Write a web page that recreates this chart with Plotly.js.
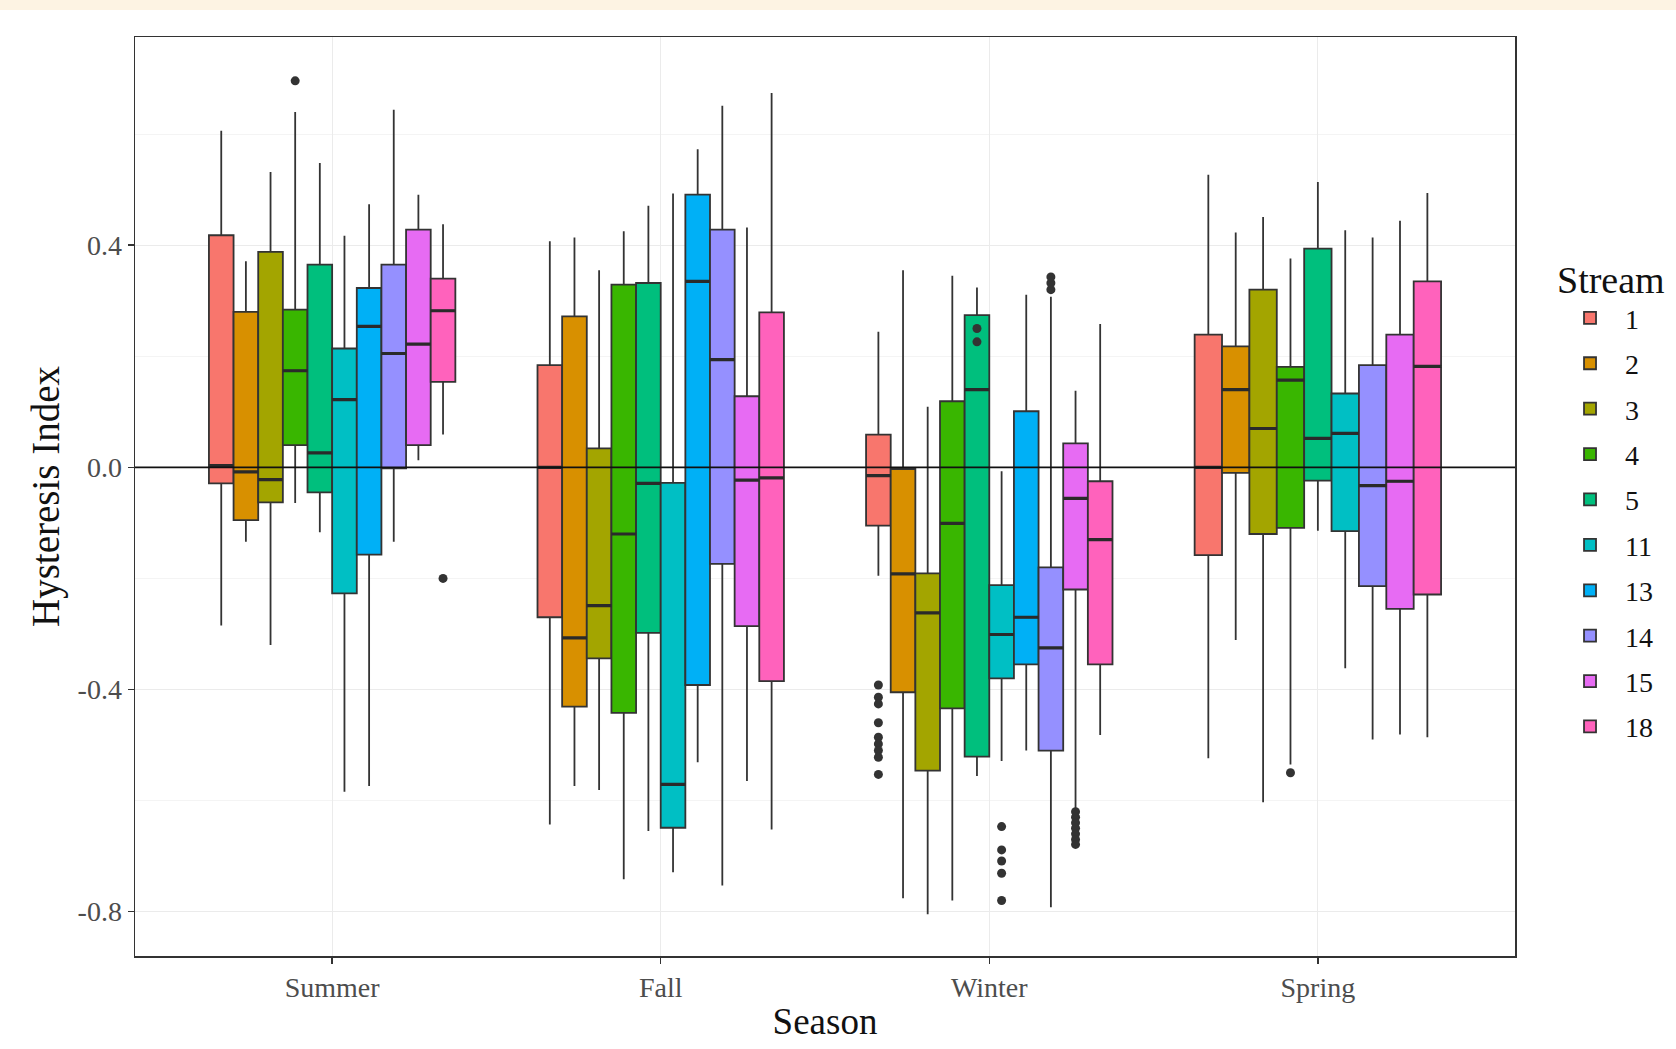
<!DOCTYPE html>
<html><head><meta charset="utf-8">
<script src="https://cdn.plot.ly/plotly-3.0.1.min.js"></script>
<style>
html,body{margin:0;padding:0;background:#fff;overflow:hidden}
#band{position:absolute;left:0;top:0;width:1676px;height:10px;background:#FDF3E3;z-index:10}
#chart{width:1676px;height:1049px}
</style></head>
<body><div id="band"></div><div id="chart"></div>
<script>
// ---- data ----
const seasons = ['Summer', 'Fall', 'Winter', 'Spring'];
const streams = ['1', '2', '3', '4', '5', '11', '13', '14', '15', '18'];
const colors = ['#F8766D', '#D89000', '#A3A500', '#39B600', '#00BF7D', '#00BFC4', '#00B0F6', '#9590FF', '#E76BF3', '#FF62BC'];

// rows = seasons, columns = streams (null = no data)
const lowerWhisker = [
  [-0.285, -0.134, -0.320, -0.064, -0.117, -0.584, -0.574, -0.134, 0.013, 0.059],
  [-0.643, -0.574, -0.581, -0.742, -0.655, -0.729, -0.531, -0.753, -0.565, -0.652],
  [-0.195, -0.776, -0.805, -0.780, -0.556, -0.529, -0.510, -0.792, -0.619, -0.482],
  [-0.524, -0.311, -0.603, -0.535, -0.114, -0.362, null, -0.490, -0.481, -0.486]
];
const quart1 = [
  [-0.029, -0.095, -0.063, 0.040, -0.045, -0.227, -0.157, -0.002, 0.040, 0.154],
  [-0.270, -0.431, -0.344, -0.442, -0.298, -0.649, -0.392, -0.174, -0.286, -0.385],
  [-0.105, -0.405, -0.546, -0.434, -0.521, -0.380, -0.355, -0.510, -0.220, -0.355],
  [-0.158, -0.010, -0.120, -0.109, -0.024, -0.115, null, -0.214, -0.255, -0.229]
];
const medians = [
  [0.003, -0.008, -0.022, 0.174, 0.026, 0.122, 0.254, 0.205, 0.222, 0.282],
  [0.000, -0.307, -0.249, -0.120, -0.029, -0.571, 0.335, 0.194, -0.023, -0.019],
  [-0.015, -0.192, -0.262, -0.101, 0.140, -0.301, -0.270, -0.325, -0.056, -0.130],
  [0.000, 0.140, 0.070, 0.157, 0.052, 0.061, null, -0.033, -0.025, 0.182]
];
const quart3 = [
  [0.418, 0.280, 0.388, 0.284, 0.365, 0.214, 0.323, 0.365, 0.428, 0.340],
  [0.184, 0.272, 0.034, 0.329, 0.332, -0.028, 0.491, 0.428, 0.128, 0.279],
  [0.059, -0.003, -0.191, 0.119, 0.274, -0.212, 0.101, -0.180, 0.043, -0.025],
  [0.239, 0.218, 0.320, 0.181, 0.394, 0.133, null, 0.184, 0.239, 0.335]
];
const upperWhisker = [
  [0.606, 0.371, 0.532, 0.640, 0.548, 0.417, 0.474, 0.644, 0.491, 0.438],
  [0.407, 0.414, 0.355, 0.425, 0.471, 0.493, 0.573, 0.651, 0.432, 0.674],
  [0.244, 0.355, 0.109, 0.345, 0.324, -0.007, 0.311, 0.307, 0.138, 0.258],
  [0.527, 0.423, 0.451, 0.376, 0.514, 0.427, null, 0.414, 0.444, 0.494]
];

// outliers
const outlierSeason = ['Summer', 'Summer',
  'Winter', 'Winter', 'Winter', 'Winter', 'Winter', 'Winter', 'Winter', 'Winter', 'Winter',
  'Winter', 'Winter',
  'Winter', 'Winter', 'Winter', 'Winter', 'Winter',
  'Winter', 'Winter', 'Winter',
  'Winter', 'Winter', 'Winter', 'Winter', 'Winter', 'Winter', 'Winter',
  'Spring'];
const outlierStream = ['4', '18',
  '1', '1', '1', '1', '1', '1', '1', '1', '1',
  '5', '5',
  '11', '11', '11', '11', '11',
  '14', '14', '14',
  '15', '15', '15', '15', '15', '15', '15',
  '4'];
const outlierValue = [0.696, -0.200,
  -0.392, -0.414, -0.426, -0.460, -0.486, -0.498, -0.510, -0.522, -0.553,
  0.226, 0.250,
  -0.647, -0.689, -0.709, -0.731, -0.780,
  0.320, 0.332, 0.343,
  -0.620, -0.630, -0.640, -0.650, -0.660, -0.670, -0.679,
  -0.550];

const yTickVals = [-0.8, -0.4, 0, 0.4];
const yTickText = ['-0.8', '-0.4', '0.0', '0.4'];
const yMinorVals = [-0.6, -0.2, 0.2, 0.6];
const hlineValue = 0;

// ---- dodge positions (ggplot-like, width 0.75 shared by present groups) ----
const DODGE = 0.75;
function boxPos(si, ki) {
  const present = streams.map((_, k) => k).filter(k => medians[si][k] !== null);
  const n = present.length;
  const j = present.indexOf(ki);
  const w = DODGE / n;
  return { x: (si + 1) - DODGE / 2 + (j + 0.5) * w, w: w };
}

const SERIF = '"Liberation Serif", "Times New Roman", serif';
const traces = [];
const medianTraces = [];
streams.forEach((st, k) => {
  seasons.forEach((se, si) => {
    if (medians[si][k] === null) return;
    const p = boxPos(si, k);
    traces.push({
      type: 'box',
      name: st,
      legendgroup: st,
      showlegend: si === 0,
      x: [p.x],
      q1: [quart1[si][k]],
      median: [medians[si][k]],
      q3: [quart3[si][k]],
      lowerfence: [lowerWhisker[si][k]],
      upperfence: [upperWhisker[si][k]],
      width: p.w,
      fillcolor: colors[k],
      line: { color: '#333333', width: 1.8 },
      whiskerwidth: 0,
      boxpoints: false,
      hoverinfo: 'y'
    });
    // thicker median bar (ggplot's fatten = 2), drawn as a flat box at the median
    const m = medians[si][k];
    medianTraces.push({
      type: 'box',
      name: st,
      legendgroup: st,
      showlegend: false,
      x: [p.x],
      q1: [m], median: [m], q3: [m], lowerfence: [m], upperfence: [m],
      width: p.w,
      fillcolor: 'rgba(0,0,0,0)',
      line: { color: '#2a2a2a', width: 3.2 },
      whiskerwidth: 0,
      boxpoints: false,
      hoverinfo: 'skip'
    });
  });
});

const allTraces = traces.concat(medianTraces);
allTraces.push({
  type: 'scatter',
  mode: 'markers',
  showlegend: false,
  x: outlierValue.map((v, i) => boxPos(seasons.indexOf(outlierSeason[i]), streams.indexOf(outlierStream[i])).x),
  y: outlierValue,
  marker: { color: '#333333', size: 9 },
  hoverinfo: 'y'
});

const layout = {
  width: 1676, height: 1049,
  paper_bgcolor: '#ffffff', plot_bgcolor: '#ffffff',
  margin: { l: 135, r: 161, t: 37, b: 93, autoexpand: false },
  boxmode: 'overlay',
  font: { family: SERIF, color: '#4D4D4D', size: 28 },
  xaxis: {
    range: [0.4, 4.6],
    tickvals: seasons.map((s, i) => i + 1),
    ticktext: seasons,
    showgrid: true, gridcolor: '#EBEBEB', gridwidth: 1,
    zeroline: false,
    showline: true, mirror: true, linecolor: '#333333', linewidth: 1.5,
    ticks: 'outside', ticklen: 6, tickcolor: '#333333', tickwidth: 1.5,
    tickfont: { family: SERIF, size: 28, color: '#4D4D4D' },
    title: { text: 'Season', font: { family: SERIF, size: 37, color: '#111111' }, standoff: 6 },
    automargin: false
  },
  yaxis: {
    range: [-0.88, 0.775],
    tickvals: yTickVals,
    ticktext: yTickText,
    showgrid: true, gridcolor: '#EBEBEB', gridwidth: 1,
    minor: { tickvals: yMinorVals, showgrid: true, gridcolor: '#F4F4F4', gridwidth: 1, ticklen: 0 },
    zeroline: false,
    showline: true, mirror: true, linecolor: '#333333', linewidth: 1.5,
    ticks: 'outside', ticklen: 6, tickcolor: '#333333', tickwidth: 1.5,
    tickfont: { family: SERIF, size: 28, color: '#4D4D4D' },
    title: { text: 'Hysteresis Index', font: { family: SERIF, size: 39, color: '#111111' }, standoff: 6 },
    automargin: false
  },
  shapes: [{
    type: 'line', xref: 'paper', x0: 0, x1: 1, yref: 'y', y0: hlineValue, y1: hlineValue,
    line: { color: '#111111', width: 1.6 }, layer: 'above'
  }],
  legend: {
    x: 1.029, xanchor: 'left', y: 0.775, yanchor: 'top',
    title: { text: 'Stream', font: { family: SERIF, size: 38, color: '#111111' } },
    font: { family: SERIF, size: 28, color: '#111111' },
    tracegroupgap: 6,
    itemwidth: 60,
    bgcolor: 'rgba(0,0,0,0)'
  },
  showlegend: true
};

Plotly.newPlot('chart', allTraces, layout, { staticPlot: true, displayModeBar: false });
</script>
</body></html>
